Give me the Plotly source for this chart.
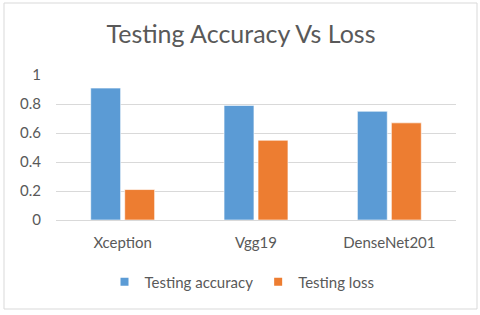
import plotly.graph_objects as go

categories = ["Xception", "Vgg19", "DenseNet201"]
acc = [0.91, 0.79, 0.75]
loss = [0.21, 0.55, 0.67]
series_names = ["Testing accuracy", "Testing loss"]
y_ticks = [0, 0.2, 0.4, 0.6, 0.8, 1]
colors = ["#5B9BD5", "#ED7D31"]

FONT = "Lato"
TXT = "#595959"

fig = go.Figure()
for vals, name, col in zip([acc, loss], series_names, colors):
    fig.add_trace(go.Bar(x=categories, y=vals, name=name, marker_color=col,
                         marker_line=dict(color="rgba(255,255,255,0.6)", width=1), showlegend=False))
for name, col in zip(series_names, colors):
    fig.add_trace(go.Scatter(x=[None], y=[None], mode="markers", name=name,
                             marker=dict(symbol="square", size=8, color=col)))

L, R, T, B = 56, 24, 75, 95
W, H = 480, 315
pw, ph = W - L - R, H - T - B

def px(x):
    return (x - L) / pw

def py(y):
    return (T + ph - y) / ph

fig.update_layout(
    width=W, height=H,
    margin=dict(l=L, r=R, t=T, b=B, autoexpand=False),
    paper_bgcolor="white", plot_bgcolor="white",
    font=dict(family=FONT, color=TXT, size=15),
    title=dict(text="Testing Accuracy Vs Loss", x=241 / W, xanchor="center", xref="container",
               y=1 - 34 / H, yanchor="middle", font=dict(size=25, color=TXT, family=FONT)),
    barmode="group", bargap=0.49, bargroupgap=0.12,
    showlegend=True,
    legend=dict(orientation="h", x=px(242), xanchor="center", y=py(282), yanchor="middle",
                font=dict(size=15, color=TXT), itemwidth=30, tracegroupgap=0),
    xaxis=dict(showgrid=False, showline=False, ticks="", automargin=False,
               ticklabelstandoff=12, tickfont=dict(size=15, color=TXT)),
    yaxis=dict(range=[0, 1], tickvals=y_ticks, showgrid=True, gridcolor="#D9D9D9", gridwidth=1,
               zeroline=True, zerolinecolor="#D9D9D9", zerolinewidth=1, showline=False, automargin=False,
               ticklabelstandoff=14, tickfont=dict(size=15, color=TXT)),
    shapes=[dict(type="rect", xref="paper", yref="paper",
                 x0=px(4), x1=px(477), y0=py(309), y1=py(3),
                 line=dict(color="#D9D9D9", width=1), fillcolor="rgba(0,0,0,0)", layer="below")],
)

fig.write_html("out.html", config={"displayModeBar": False},
               post_script="document.body.style.margin='0px';")
